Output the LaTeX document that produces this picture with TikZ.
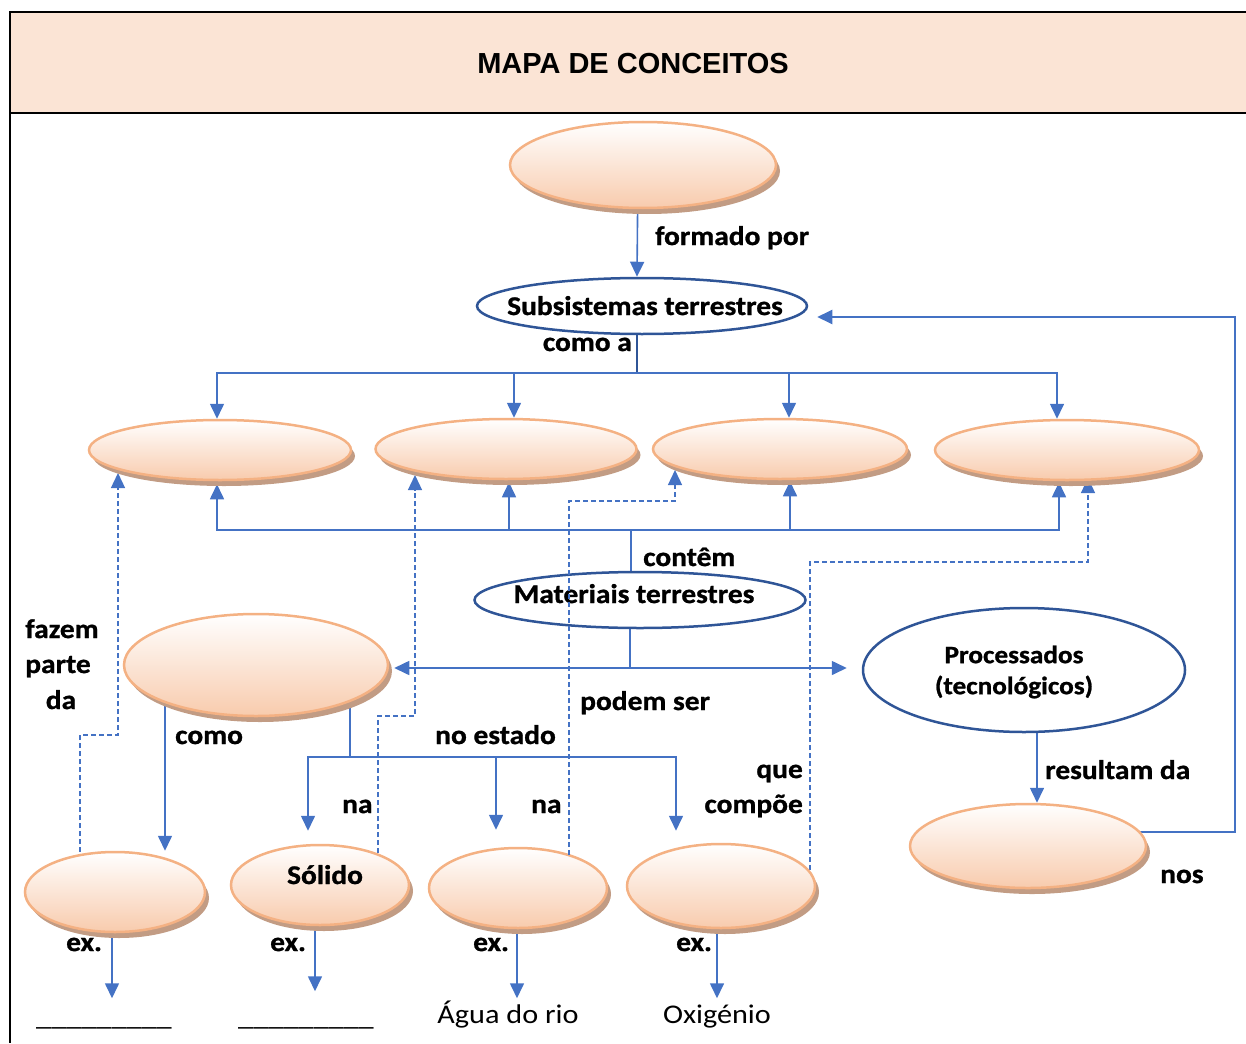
\documentclass[tikz,border=0pt]{standalone}
\usepackage{fontspec}
\setmainfont{Carlito}
\newfontfamily\lblfont{Carlito}[FakeStretch=1.09, BoldFeatures={FakeBold=1}]
\newfontfamily\plainfont{Carlito}[FakeStretch=1.12]
\newfontfamily\headfont{Liberation Sans}
\usetikzlibrary{arrows.meta,shapes.geometric,shadows}

\definecolor{peach}{HTML}{F8CBAD}
\definecolor{peachline}{HTML}{F4B183}
\definecolor{peachshadow}{HTML}{C29C84}
\definecolor{linkblue}{HTML}{4472C4}
\definecolor{navy}{HTML}{2F5597}
\definecolor{headfill}{HTML}{FBE4D5}

\pgfdeclarelayer{bg}
\pgfsetlayers{bg,main}

\begin{document}
\begin{tikzpicture}[x=1pt,y=-1pt,
  concept/.style={ellipse, draw=peachline, line width=2.5pt,
    top color=white, bottom color=peach, inner sep=0pt,
    drop shadow={shadow xshift=4pt, shadow yshift=-6pt, fill=peachshadow, opacity=1}},
  hub/.style={ellipse, draw=navy, line width=2.5pt, fill=white, inner sep=0pt},
  lbl/.style={font=\lblfont\bfseries\fontsize{27}{32}\selectfont, inner sep=0pt},
  plain/.style={font=\plainfont\fontsize{27}{32}\selectfont, inner sep=0pt},
  conn/.style={draw=linkblue, line width=1.6pt},
  dconn/.style={conn, line width=1.3pt, dash pattern=on 5pt off 3pt},
  navyline/.style={draw=navy, line width=1.8pt},
  arr/.style={-{Triangle[width=14pt,length=15pt]}}
]
\useasboundingbox (0,0) rectangle (1246,1043);

% heading band and frame
\fill[headfill] (10,12) rectangle (1246,113);
\draw[line width=2pt] (1246,12) -- (10,12) -- (10,1043);
\draw[line width=2pt] (10,113) -- (1246,113);
\node[font=\headfont\bfseries\fontsize{29}{34}\selectfont, anchor=base, inner sep=0pt] (title) at (633,74) {MAPA DE CONCEITOS};

% concept ellipses
\node[concept, minimum width=266pt, minimum height=86pt] (top) at (643,165) {};
\node[hub, minimum width=330pt, minimum height=56pt] (sub) at (642,306) {};
\node[concept, minimum width=262pt, minimum height=60pt] (e1) at (220,450) {};
\node[concept, minimum width=261pt, minimum height=60pt] (e2) at (506,449) {};
\node[concept, minimum width=254pt, minimum height=60pt] (e3) at (780,449) {};
\node[concept, minimum width=264pt, minimum height=60pt] (e4) at (1067,450) {};
\node[hub, minimum width=331pt, minimum height=56pt] (mat) at (640,600) {};
\node[concept, minimum width=264pt, minimum height=102pt] (big) at (256,665) {};
\node[hub, minimum width=322pt, minimum height=124pt] (proc) at (1024,670) {};
\node[concept, minimum width=236pt, minimum height=84pt] (res) at (1028,846) {};
\node[concept, minimum width=180pt, minimum height=80pt] (a) at (115,892) {};
\node[concept, minimum width=178pt, minimum height=80pt] (b) at (320,885) {};
\node[concept, minimum width=178pt, minimum height=80pt] (c) at (518,888) {};
\node[concept, minimum width=188pt, minimum height=84pt] (d) at (721,886) {};

% texts inside the ellipses
\node[lbl, anchor=base] (subtxt) at (645,315) {Subsistemas terrestres};
\node[lbl, anchor=base] (mattxt) at (634,603) {Materiais terrestres};
\node[align=center, inner sep=0pt, font=\lblfont\bfseries\fontsize{25}{31}\selectfont] (proctxt) at (1014,672) {Processados\\(tecnológicos)};
\node[lbl, anchor=base] (soltxt) at (325,884) {Sólido};

% link words
\node[lbl, anchor=base west] (lformado) at (655,245) {formado por};
\node[lbl, anchor=base east] (lcomoa) at (632,351) {como a};
\node[lbl, anchor=base west] (lcontem) at (643,566) {contêm};
\node[lbl, anchor=base west] (lpodem) at (580,710) {podem ser};
\node[lbl, anchor=base] (lfazem) at (62,638) {fazem};
\node[lbl, anchor=base] (lparte) at (58,673) {parte};
\node[lbl, anchor=base] (lda) at (61,709) {da};
\node[lbl, anchor=base west] (lcomo) at (175,744) {como};
\node[lbl, anchor=base west] (lestado) at (435,744) {no estado};
\node[lbl, anchor=base west] (lna1) at (342,813) {na};
\node[lbl, anchor=base west] (lna2) at (531,813) {na};
\node[lbl, anchor=base east] (lque) at (803,778) {que};
\node[lbl, anchor=base east] (lcompoe) at (803,813) {compõe};
\node[lbl, anchor=base west] (lresultam) at (1045,779) {resultam da};
\node[lbl, anchor=base west] (lnos) at (1160,883) {nos};
\node[lbl, anchor=base west] (lex1) at (66,951) {ex.};
\node[lbl, anchor=base west] (lex2) at (270,951) {ex.};
\node[lbl, anchor=base west] (lex3) at (473,951) {ex.};
\node[lbl, anchor=base west] (lex4) at (676,951) {ex.};

% examples
\node[plain, anchor=base] (blank1) at (104,1025) {\_\_\_\_\_\_\_\_\_};
\node[plain, anchor=base] (blank2) at (306,1025) {\_\_\_\_\_\_\_\_\_};
\node[plain, anchor=base] (agua) at (508,1023) {Água do rio};
\node[plain, anchor=base] (oxi) at (717,1023) {Oxigénio};

% junction points of the branching links
\coordinate (fork1) at (637,373);
\coordinate (fork2) at (631,530);
\coordinate (fork3) at (630,668);
\coordinate (fork4) at (350,757);
\coordinate (loopB) at (1235,317);

% this dashed link runs across the materials ellipse
\draw[dconn,arr] ([xshift=51pt,yshift=33pt]c.center) -- ++(0,-354) -- ++(106,0) -- ([xshift=-105pt,yshift=-21pt]e3.center);

\begin{pgfonlayer}{bg}
% formed by subsystems
\draw[conn,arr] ([xshift=-5pt]top.center) -- ([xshift=-5pt]sub.north);
\draw[navyline] ([xshift=-5pt]sub.center) -- (fork1);
\draw[conn,arr] (fork1) -| ([xshift=-3pt]e1.north);
\draw[conn,arr] (fork1) -| ([xshift=8pt]e2.north);
\draw[conn,arr] (fork1) -| ([xshift=9pt]e3.north);
\draw[conn,arr] (fork1) -| ([xshift=-10pt]e4.north);

% contained materials
\draw[conn] ([xshift=-9pt]mat.center) -- (fork2);
\draw[conn,arr] (fork2) -| ([xshift=-3pt,yshift=-3pt]e1.south);
\draw[conn,arr] (fork2) -| ([xshift=3pt,yshift=-2pt]e2.south);
\draw[conn,arr] (fork2) -| ([xshift=10pt,yshift=-1pt]e3.south);
\draw[conn,arr] (fork2) -| ([xshift=-8pt,yshift=-1pt]e4.south);

% two kinds of materials
\draw[conn] ([xshift=-10pt]mat.center) -- (fork3);
\draw[conn,arr,shorten >=5pt] (fork3) -- (fork3 -| big.east);
\draw[conn,arr,shorten >=15pt] (fork3) -- (fork3 -| proc.west);

% natural materials
\draw[conn,arr] ([xshift=-91pt]big.center) -- ([xshift=50pt]a.north);
\draw[conn] ([xshift=94pt]big.center) -- (fork4);
\draw[conn,arr] (fork4) -| ([xshift=-12pt,yshift=13pt]b.north);
\draw[conn,arr] (fork4) -| ([xshift=-22pt,yshift=17pt]c.north);
\draw[conn,arr] (fork4) -| ([xshift=-45pt,yshift=12pt]d.north);

% dashed links back to the subsystems
\draw[dconn,arr] ([xshift=-35pt]a.center) -- ++(0,-157) -- ++(38,0) -- ([xshift=-102pt,yshift=-23pt]e1.center);
\draw[dconn,arr] ([xshift=58pt]b.center) -- ++(0,-169) -- ++(37,0) -- ([xshift=-91pt,yshift=-26pt]e2.center);
\draw[dconn,arr] ([xshift=89pt]d.center) -- ++(0,-324) -- ++(278,0) -- ([xshift=21pt,yshift=-28pt]e4.center);

% processed materials
\draw[conn,arr] ([xshift=13pt]proc.center) -- ([xshift=9pt]res.north);
\draw[conn,line width=2pt,arr,shorten >=9pt] ([yshift=14pt]res.center) -| (loopB) -- (loopB -| sub.east);

% examples
\draw[conn,arr] ([xshift=-3pt]a.south) -- ++(0,65);
\draw[conn,arr] ([xshift=-5pt]b.south) -- ++(0,65);
\draw[conn,arr] ([xshift=-1pt]c.south) -- ++(0,69);
\draw[conn,arr] ([xshift=-4pt]d.south) -- ++(0,69);
\end{pgfonlayer}
\end{tikzpicture}
\end{document}
